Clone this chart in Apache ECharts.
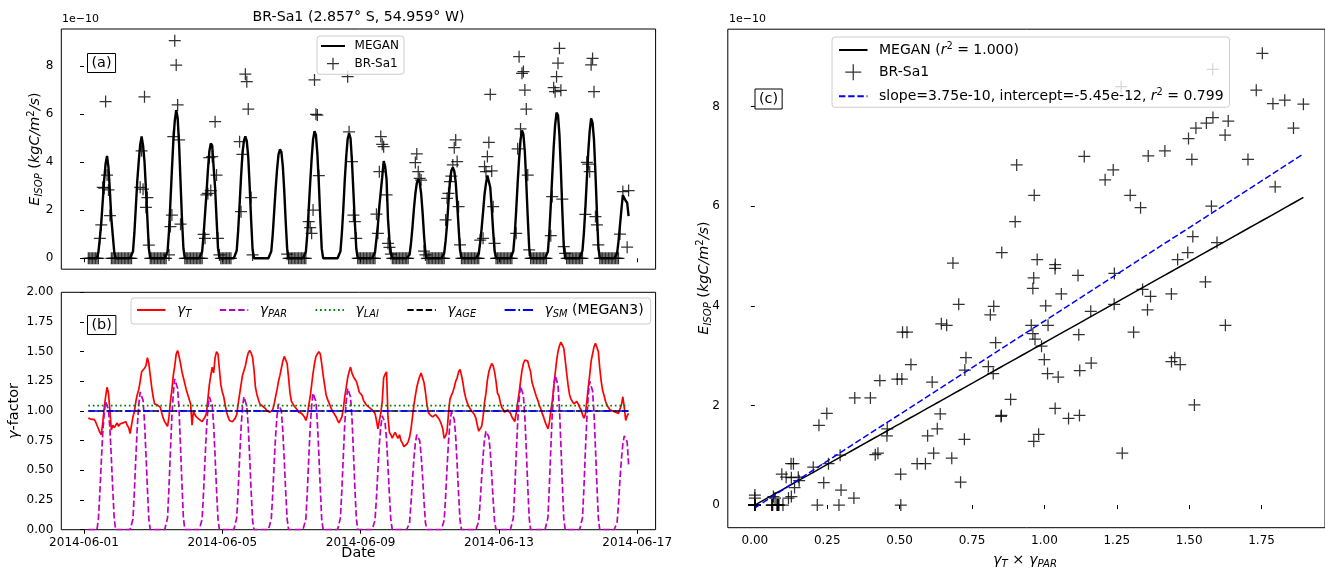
<!DOCTYPE html>
<html>
<head>
<meta charset="utf-8">
<script src="https://cdn.jsdelivr.net/npm/echarts@6/dist/echarts.min.js"></script>
<style>
  html, body { margin: 0; padding: 0; background: #fff; }
  #chart { width: 1325px; height: 568px; }
</style>
</head>
<body>
<div id="chart"></div>
<script>
// ---------------------------------------------------------------------------
// Isoprene emission at BR-Sa1: MEGAN vs. eddy-covariance flux, hourly (UTC)
// Emission values are in units of 1e-10 kgC/m2/s.
// ---------------------------------------------------------------------------
const _ = null;                       // missing observation
const firstHour = 3;                  // first sample: 2014-06-01 03:00 UTC
const dateTickLabels = ['2014-06-01', '2014-06-05', '2014-06-09', '2014-06-13', '2014-06-17'];
const emissionTicks = [0, 2, 4, 6, 8];
const gammaTicks = [0, 0.25, 0.5, 0.75, 1, 1.25, 1.5, 1.75, 2];
const productTicks = [0, 0.25, 0.5, 0.75, 1, 1.25, 1.5, 1.75];

// temperature activity factor
const gammaT = [
  0.94,0.93,0.93,0.92,0.93,0.91,0.88,0.85,0.82,0.80,0.90,1.02,1.12,1.20,1.15,1.00,0.84,0.88,0.86,0.88,0.90,
  0.87,0.89,0.88,0.90,0.89,0.91,0.88,0.86,0.81,0.88,0.95,1.00,1.08,1.14,1.18,1.25,1.33,1.32,1.36,1.38,1.45,1.40,1.30,1.20,
  1.12,1.06,1.05,1.05,1.04,1.03,0.98,0.94,0.91,0.89,0.87,0.95,1.08,1.18,1.30,1.38,1.48,1.51,1.46,1.40,1.33,1.28,1.23,1.18,
  1.14,1.10,1.06,0.88,1.00,0.97,0.95,0.94,0.93,0.92,0.91,0.92,0.95,0.98,1.10,1.22,1.30,1.37,1.32,1.45,1.50,1.48,1.35,1.22,
  1.16,1.12,1.05,0.99,0.95,0.92,0.91,0.91,0.91,0.94,0.97,1.06,1.14,1.22,1.30,1.34,1.38,1.44,1.49,1.51,1.49,1.45,1.35,1.20,
  1.14,1.10,1.06,1.05,1.04,1.03,1.02,1.00,0.99,0.99,1.00,1.01,1.06,1.12,1.18,1.25,1.30,1.36,1.42,1.46,1.47,1.40,1.28,1.15,
  1.08,1.06,1.04,1.03,1.01,0.99,0.98,0.98,0.97,0.95,0.92,0.96,1.05,1.12,1.22,1.32,1.40,1.46,1.48,1.50,1.48,1.40,1.30,1.22,
  1.14,1.10,1.07,1.04,1.01,0.99,0.97,0.95,0.92,0.90,0.89,0.95,1.02,1.12,1.20,1.28,1.33,1.37,1.32,1.29,1.27,1.25,1.21,1.16,
  1.15,1.13,1.09,1.07,1.05,1.04,1.03,1.02,1.01,1.00,0.98,0.92,0.85,0.92,0.98,1.08,1.28,1.31,1.33,0.95,0.82,0.80,0.77,0.80,
  0.82,0.79,0.77,0.80,0.75,0.73,0.70,0.69,0.72,0.74,0.78,0.85,0.95,1.05,1.13,1.20,1.25,1.29,1.32,1.31,1.24,1.16,1.06,0.99,
  0.97,0.96,0.95,0.96,0.97,0.96,0.94,0.92,0.89,0.85,0.77,0.79,0.83,0.98,1.10,1.13,1.16,1.20,1.25,1.28,1.33,1.35,1.30,1.24,
  1.16,1.11,1.07,1.04,1.02,1.00,0.99,0.97,0.94,0.88,0.83,0.84,0.87,0.95,1.07,1.15,1.26,1.33,1.37,1.40,1.38,1.33,1.25,1.15,
  1.13,1.07,1.03,1.01,0.99,1.00,1.01,1.01,0.98,0.95,0.93,0.91,0.98,1.07,1.15,1.25,1.34,1.40,1.43,1.44,1.42,1.37,1.33,1.24,
  1.20,1.16,1.12,1.09,1.05,1.02,0.98,0.95,0.91,0.88,0.85,0.90,1.00,1.08,1.20,1.31,1.42,1.50,1.55,1.58,1.57,1.53,1.43,1.32,
  1.22,1.14,1.10,1.08,1.06,1.07,1.08,1.06,1.03,1.01,0.97,0.94,0.97,1.08,1.20,1.30,1.42,1.48,1.54,1.57,1.57,1.50,1.36,1.25,
  1.17,1.13,1.08,1.05,1.03,1.01,1.01,1.00,1.00,0.99,0.99,0.98,0.99,1.05,1.12,1.03,0.92,0.96,0.98
];

// light activity factor
const gammaPAR = [
  0,0,0,0,0,0,0, 0.09,0.31,0.57,0.81,0.98,1.08,1.09,1.01,0.85,0.60,0.33,0.09, 0,0,
  0,0,0,0,0,0,0,0,0,0, 0.09,0.33,0.61,0.87,1.05,1.16,1.17,1.09,0.91,0.64,0.35,0.09, 0,0,
  0,0,0,0,0,0,0,0,0,0, 0.10,0.36,0.67,0.95,1.15,1.27,1.28,1.19,1.00,0.70,0.38,0.10, 0,0,
  0,0,0,0,0,0,0,0,0,0, 0.09,0.32,0.59,0.84,1.02,1.12,1.13,1.05,0.88,0.62,0.34,0.09, 0,0,
  0,0,0,0,0,0,0,0,0,0, 0.10,0.33,0.60,0.85,1.03,1.12,1.13,1.04,0.87,0.61,0.33,0.08, 0,0,
  0,0,0,0,0,0,0,0,0,0, 0.09,0.30,0.56,0.79,0.96,1.06,1.07,1.00,0.83,0.59,0.32,0.09, 0,0,
  0,0,0,0,0,0,0,0,0,0, 0.09,0.32,0.60,0.86,1.04,1.15,1.16,1.08,0.90,0.64,0.35,0.09, 0,0,
  0,0,0,0,0,0,0,0,0,0, 0.10,0.34,0.62,0.89,1.08,1.19,1.20,1.12,0.94,0.66,0.36,0.10, 0,0,
  0,0,0,0,0,0,0,0,0,0, 0.08,0.27,0.50,0.72,0.87,0.96,0.97,0.90,0.76,0.53,0.29,0.08, 0,0,
  0,0,0,0,0,0,0,0,0,0, 0.06,0.23,0.42,0.60,0.73,0.80,0.81,0.75,0.63,0.45,0.24,0.06, 0,0,
  0,0,0,0,0,0,0,0,0,0, 0.08,0.28,0.52,0.74,0.90,0.99,1.00,0.93,0.78,0.55,0.30,0.08, 0,0,
  0,0,0,0,0,0,0,0,0,0, 0.07,0.24,0.44,0.62,0.76,0.83,0.84,0.78,0.66,0.46,0.25,0.07, 0,0,
  0,0,0,0,0,0,0,0,0,0, 0.10,0.34,0.63,0.90,1.10,1.21,1.22,1.13,0.95,0.67,0.37,0.10, 0,0,
  0,0,0,0,0,0,0,0,0,0, 0.10,0.37,0.68,0.97,1.18,1.30,1.31,1.22,1.02,0.72,0.39,0.10, 0,0,
  0,0,0,0,0,0,0,0,0,0, 0.10,0.35,0.66,0.93,1.13,1.25,1.26,1.17,0.98,0.69,0.38,0.10, 0,0,
  0,0,0,0,0,0,0,0,0,0, 0.06,0.22,0.42,0.59,0.72,0.79,0.80,0.74,0.55
];

// constant activity factors
const gammaLAI = 1.045;
const gammaAGE = 1.0;
const gammaSM = 1.0;

// observed isoprene flux at BR-Sa1 (1e-10 kgC/m2/s)
const observed = [
  0,0,0,0,0,0,0,0, 0.83,1.39,2.96,2.92,6.53,3.47,2.85,1.78, 0,0,0,0,0,
  0,0,0,0,0,0,0,0,0,0, _,_,_,_,_, 2.96,4.48,2.88,6.73,2.12,2.53,0.55, 0,0,
  0,0,0,0,0,0,0,0,0,0, _, 0.14,1.32,1.80,5.07,9.07,8.05,6.39,4.93,1.42, _,_, 0,0,
  0,0,0,0,0,0,0,0,0,0,0, 1.00,0.83,2.64,2.70,4.19,2.82,4.24,_,5.69,3.47,0.83,0.14, 0,
  0,0,0,0,0,0,0, _,_,_,_,_, 4.86,1.94,4.33,_,7.67,7.36,6.22,_,2.53,0.14, _,_,
  _,_,_,_,_,_,_,_,_,_,_,_,_,_,_,_,_,_,_,_,_, 0.17, 0,0,
  0,0,0,0,0,0,0,0,0,0,0, _, 1.53,1.28,1.04,2.01,7.43,6.00,5.97,3.44, _,_,_,_,
  _,_,_,_,_,_,_,_,_,_,_,_,_,_,_, 7.57,5.27,_,4.03,1.80,1.53,0.83, 0,0,
  0,0,0,0,0,0,0,0,0,0,0, 1.84,1.04,3.61,5.07,4.75,4.65,_,2.64,0.62,0.45,0.17, 0,0,
  0,0,0,0,0,0,0,0,0,0, _,_,_,_, 3.99,4.35,3.61,3.33,3.26,_,0.30,0.14, 0,0,
  0,0,0,0,0,0,0,0,0,0,0, 1.60,2.50,2.71,3.19,3.42,3.89,4.61,4.93,4.03,2.15,0.56, 0,0,
  0,0,0,0,0,0,0,0,0,0,0, 0.76,_,0.83,3.82,3.61,4.24,4.83,6.83,3.64,2.15,0.62, 0,0,
  0,0,0,0,0,0,0,0,0,0, _,_, 1.04,4.56,8.40,5.39,7.71,7.78,7.01,6.22,3.47,0.35, 0,0,
  0,0,0,0,0,0,0,0,0,0, _,_, 0.94,2.57,7.11,6.94,7.57,8.13,8.75,7.00,2.47,0.49,0.20, 0,
  0,0,0,0,0,0,0,0,0,0,0, _, 1.83,4.00,3.92,3.61,8.06,8.33,6.94,1.74,1.39,0.56, 0,0,
  0,0,0,0,0,0,0,0,0,0,0,0, 1.01,_,2.78,_,_,0.46,2.82
];

// MEGAN standard emission factor (1e-10 kgC/m2/s)
const emissionFactor = 3.12;
// statistics shown in the scatter legend
const meganR2 = 1.000;
const fitSlope = 3.75e-10;
const fitIntercept = -5.45e-12;
const fitR2 = 0.799;
const SCALE = 1e-10;

// ---------------------------------------------------------------------------
const FONT = 'DejaVu Sans';
const FS_TICK = 12;
const FS_LABEL = 14.4;
const FS_LEGEND = 14;
const PLUS = 'path://M0,6H12M6,0V12';
const plusStyle = { color: 'rgba(0,0,0,0)', borderColor: '#000', borderWidth: 1.25 };

const hours = gammaT.map((_v, i) => firstHour + i);
const origin = Date.parse(dateTickLabels[0] + 'T00:00:00Z');
const tickHours = dateTickLabels.map(d => (Date.parse(d + 'T00:00:00Z') - origin) / 3600000);

const megan = gammaT.map((g, i) => emissionFactor * g * gammaPAR[i] * gammaLAI * gammaAGE * gammaSM);
const product = gammaT.map((g, i) => g * gammaPAR[i]);

const tsMegan = hours.map((h, i) => [h, megan[i]]);
const tsObs = [];
observed.forEach((v, i) => { if (v !== null) tsObs.push([hours[i], v]); });
const tsGammaT = hours.map((h, i) => [h, gammaT[i]]);
const tsGammaPAR = hours.map((h, i) => [h, gammaPAR[i]]);
const tsGammaLAI = hours.map(h => [h, gammaLAI]);
const tsGammaAGE = hours.map(h => [h, gammaAGE]);
const tsGammaSM = hours.map(h => [h, gammaSM]);

const scObs = [];
observed.forEach((v, i) => { if (v !== null) scObs.push([product[i], v]); });
const scMegan = product.map((p, i) => [p, megan[i]]).sort((a, b) => a[0] - b[0]);
const xs = scObs.map(p => p[0]);
const fitX0 = Math.min(...xs), fitX1 = Math.max(...xs);
const scFit = [fitX0, fitX1].map(x => [x, (fitSlope * x + fitIntercept) / SCALE]);

const meganName = 'MEGAN (r2 = ' + meganR2.toFixed(3) + ')';
const fitName = 'slope=' + fitSlope.toExponential(2) + ', intercept=' + fitIntercept.toExponential(2) + ', r2 = ' + fitR2.toFixed(3);

// rich-text styles: r = roman, g = italic, s = italic subscript, p = superscript
function richFor(size) {
  const small = size * 0.7;
  const lh = Math.round(size * 1.25);
  const slh = Math.round(small);
  return {
    r: { fontFamily: FONT, fontSize: size, color: '#000', lineHeight: lh },
    g: { fontFamily: FONT, fontSize: size, color: '#000', fontStyle: 'italic', lineHeight: lh },
    s: { fontFamily: FONT, fontSize: small, color: '#000', fontStyle: 'italic', lineHeight: slh, verticalAlign: 'bottom' },
    p: { fontFamily: FONT, fontSize: small, color: '#000', lineHeight: slh, verticalAlign: 'top' }
  };
}
const richLabel = richFor(FS_LABEL);

const legendText = {
  'γT': '{g|γ}{s|T}',
  'γPAR': '{g|γ}{s|PAR}',
  'γLAI': '{g|γ}{s|LAI}',
  'γAGE': '{g|γ}{s|AGE}',
  'γSM (MEGAN3)': '{g|γ}{s|SM}{r| (MEGAN3)}',
  [meganName]: '{r|MEGAN (}{g|r}{p|2}{r| = ' + meganR2.toFixed(3) + ')}',
  [fitName]: '{r|slope=' + fitSlope.toExponential(2) + ', intercept=' + fitIntercept.toExponential(2) + ', }{g|r}{p|2}{r| = ' + fitR2.toFixed(3) + '}'
};
const legendFormatter = name => legendText[name] || ('{r|' + name + '}');

function axisWith(gridIndex, min, max, ticks, labelFmt, margin) {
  return {
    type: 'value', gridIndex, min, max,
    axisLine: { show: false },
    splitLine: { show: false },
    axisTick: { show: true, inside: false, length: 4, lineStyle: { color: '#000', width: 1 }, customValues: ticks },
    axisLabel: labelFmt
      ? { show: true, color: '#000', fontFamily: FONT, fontSize: FS_TICK, margin, customValues: ticks, formatter: labelFmt }
      : { show: false }
  };
}

const xHourMin = -15.75, xHourMax = 396.75;
const gridStyle = { show: true, borderColor: '#000', borderWidth: 1, backgroundColor: 'transparent' };
const eLabel = '{g|E}{s|ISOP}{r| (}{g|kgC/m}{p|2}{g|/s}{r|)}';
const legendBox = {
  backgroundColor: 'rgba(255,255,255,0.8)', borderColor: '#cccccc', borderWidth: 1, borderRadius: 3
};
const hideMarker = { opacity: 0 };

const option = {
  animation: false,
  backgroundColor: '#fff',
  grid: [
    Object.assign({ left: 61.3, top: 29, width: 594.3, height: 240.2 }, gridStyle),
    Object.assign({ left: 61.3, top: 292.3, width: 594.3, height: 237.4 }, gridStyle),
    Object.assign({ left: 727.8, top: 29.2, width: 622, height: 498.5 }, gridStyle)
  ],
  xAxis: [
    axisWith(0, xHourMin, xHourMax, tickHours, null, 0),
    axisWith(1, xHourMin, xHourMax, tickHours, v => dateTickLabels[tickHours.indexOf(v)] || '', 7),
    axisWith(2, -0.0935, 1.969, productTicks, v => v.toFixed(2), 7)
  ],
  yAxis: [
    axisWith(0, -0.455, 9.555, emissionTicks, v => String(v), 8),
    axisWith(1, 0, 2, gammaTicks, v => v.toFixed(2), 8),
    axisWith(2, -0.455, 9.555, emissionTicks, v => String(v), 8)
  ],
  legend: [
    Object.assign({}, legendBox, {
      left: 317, top: 36, orient: 'vertical', padding: [4, 5, 4, 3],
      itemWidth: 24, itemHeight: 12, itemGap: 5,
      data: [{ name: 'MEGAN', itemStyle: hideMarker }, { name: 'BR-Sa1', itemStyle: plusStyle }],
      textStyle: { fontFamily: FONT, fontSize: 12, color: '#000', padding: [0, 0, 0, 4.6] }
    }),
    Object.assign({}, legendBox, {
      left: 131, top: 298, orient: 'horizontal', padding: [5, 7, 5, 5],
      itemWidth: 28.5, itemHeight: 16, itemGap: 27.5,
      data: ['γT', 'γPAR', 'γLAI', 'γAGE', 'γSM (MEGAN3)'].map(n => ({ name: n, itemStyle: hideMarker })),
      formatter: legendFormatter,
      textStyle: { fontFamily: FONT, fontSize: FS_LEGEND, color: '#000', padding: [0, 0, 0, 6.5], rich: richFor(FS_LEGEND) }
    }),
    Object.assign({}, legendBox, {
      left: 832, top: 37, orient: 'vertical', padding: [4, 6, 4, 6],
      itemWidth: 28.5, itemHeight: 16, itemGap: 6.5,
      data: [{ name: meganName, itemStyle: hideMarker }, { name: 'BR-Sa1', itemStyle: plusStyle },
             { name: fitName, itemStyle: hideMarker }],
      formatter: legendFormatter,
      textStyle: { fontFamily: FONT, fontSize: FS_LEGEND, color: '#000', padding: [0, 0, 0, 6.5], rich: richFor(FS_LEGEND) }
    })
  ],
  series: [
    // (a) time series
    { type: 'line', name: 'MEGAN', xAxisIndex: 0, yAxisIndex: 0, data: tsMegan, symbol: 'none',
      lineStyle: { color: '#000', width: 2.4 }, itemStyle: { color: '#000' }, z: 2 },
    { type: 'scatter', name: 'BR-Sa1', xAxisIndex: 0, yAxisIndex: 0, data: tsObs, symbol: PLUS,
      symbolSize: 12, symbolKeepAspect: true, itemStyle: plusStyle, z: 3 },
    // (b) activity factors
    { type: 'line', name: 'γT', xAxisIndex: 1, yAxisIndex: 1, data: tsGammaT, symbol: 'none',
      lineStyle: { color: '#ff0000', width: 1.7 }, itemStyle: { color: '#ff0000' } },
    { type: 'line', name: 'γPAR', xAxisIndex: 1, yAxisIndex: 1, data: tsGammaPAR, symbol: 'none',
      lineStyle: { color: '#bf00bf', width: 1.7, type: [6.4, 2.8] }, itemStyle: { color: '#bf00bf' } },
    { type: 'line', name: 'γLAI', xAxisIndex: 1, yAxisIndex: 1, data: tsGammaLAI, symbol: 'none',
      lineStyle: { color: '#008000', width: 1.7, type: [1.7, 2.8] }, itemStyle: { color: '#008000' } },
    { type: 'line', name: 'γAGE', xAxisIndex: 1, yAxisIndex: 1, data: tsGammaAGE, symbol: 'none',
      lineStyle: { color: '#000000', width: 1.7, type: [6.4, 2.8] }, itemStyle: { color: '#000000' } },
    { type: 'line', name: 'γSM (MEGAN3)', xAxisIndex: 1, yAxisIndex: 1, data: tsGammaSM, symbol: 'none',
      lineStyle: { color: '#0000ff', width: 1.7, type: [11, 2.8, 1.7, 2.8] }, itemStyle: { color: '#0000ff' } },
    // (c) emission vs. gammaT x gammaPAR
    { type: 'line', name: meganName, xAxisIndex: 2, yAxisIndex: 2, data: scMegan, symbol: 'none',
      lineStyle: { color: '#000', width: 1.5 }, itemStyle: { color: '#000' } },
    { type: 'scatter', name: 'BR-Sa1', xAxisIndex: 2, yAxisIndex: 2, data: scObs, symbol: PLUS,
      symbolSize: 12, symbolKeepAspect: true, itemStyle: plusStyle },
    { type: 'line', name: fitName, xAxisIndex: 2, yAxisIndex: 2, data: scFit, symbol: 'none',
      lineStyle: { color: '#0000ff', width: 1.5, type: [6.4, 2.8] }, itemStyle: { color: '#0000ff' } }
  ],
  graphic: [
    { type: 'text', x: 358.5, y: 17, style: { text: 'BR-Sa1 (2.857° S, 54.959° W)', fontFamily: FONT, fontSize: 14.2,
      fill: '#000', align: 'center', verticalAlign: 'middle' } },
    { type: 'text', x: 62, y: 19, style: { text: '1e\u221210', fontFamily: FONT, fontSize: 11, fill: '#000',
      align: 'left', verticalAlign: 'middle' } },
    { type: 'text', x: 729, y: 19, style: { text: '1e\u221210', fontFamily: FONT, fontSize: 11, fill: '#000',
      align: 'left', verticalAlign: 'middle' } },
    { type: 'text', x: 35, y: 149, rotation: Math.PI / 2, style: { text: eLabel, rich: richLabel,
      align: 'center', verticalAlign: 'middle' } },
    { type: 'text', x: 14, y: 411, rotation: Math.PI / 2, style: { text: '{g|γ}{r|-factor}', rich: richLabel,
      align: 'center', verticalAlign: 'middle' } },
    { type: 'text', x: 358.5, y: 553, style: { text: 'Date', fontFamily: FONT, fontSize: FS_LABEL, fill: '#000',
      align: 'center', verticalAlign: 'middle' } },
    { type: 'text', x: 704, y: 278, rotation: Math.PI / 2, style: { text: eLabel, rich: richLabel,
      align: 'center', verticalAlign: 'middle' } },
    { type: 'text', x: 1025, y: 560, style: { text: '{g|γ}{s|T}{r| × }{g|γ}{s|PAR}', rich: richLabel,
      align: 'center', verticalAlign: 'middle' } },
    { type: 'text', x: 87.5, y: 53.5, style: { text: '(a)', fontFamily: FONT, fontSize: FS_LABEL, fill: '#000',
      align: 'left', verticalAlign: 'top', padding: [3, 4, 2, 4], borderColor: '#000', borderWidth: 1 } },
    { type: 'text', x: 87.5, y: 315.5, style: { text: '(b)', fontFamily: FONT, fontSize: FS_LABEL, fill: '#000',
      align: 'left', verticalAlign: 'top', padding: [3, 4, 2, 4], borderColor: '#000', borderWidth: 1 } },
    { type: 'text', x: 755, y: 89, style: { text: '(c)', fontFamily: FONT, fontSize: FS_LABEL, fill: '#000',
      align: 'left', verticalAlign: 'top', padding: [3, 4, 3, 4], borderColor: '#000', borderWidth: 1 } }
  ]
};

const chart = echarts.init(document.getElementById('chart'), null, { renderer: 'canvas', width: 1325, height: 568 });
chart.setOption(option);
</script>
</body>
</html>
